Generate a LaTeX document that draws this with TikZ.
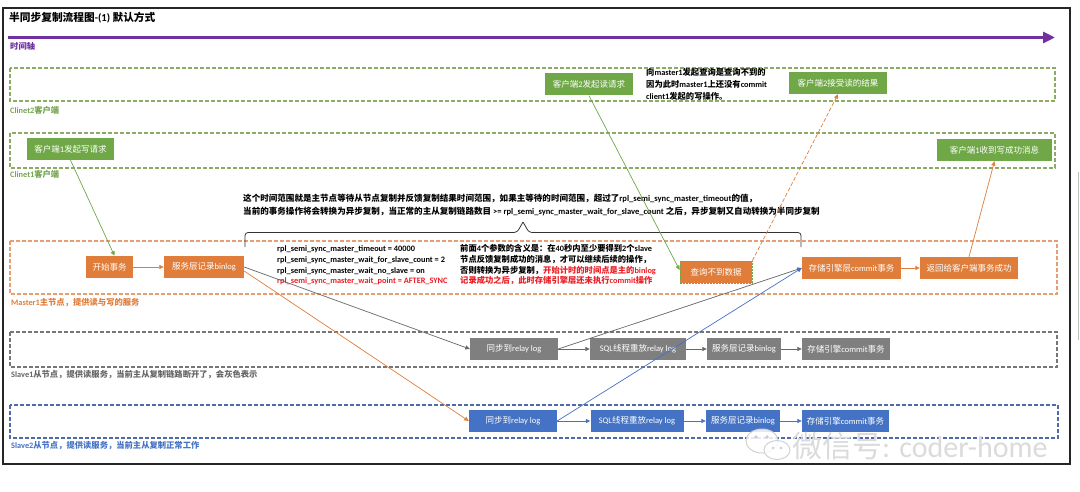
\documentclass[tikz,border=0pt]{standalone}
\usepackage{fontspec}
\setmainfont{Carlito}
\newfontfamily\cjkfont{Noto Sans CJK SC}
\usetikzlibrary{arrows.meta,calc}
% automatic switch between Latin (Carlito) and CJK (Noto Sans CJK SC)
\XeTeXinterchartokenstate=1
\ifdefined\newXeTeXintercharclass \newXeTeXintercharclass\CJKcls \else \chardef\CJKcls=7 \fi
\newcount\cjkc
\def\setcjkrange#1#2{\cjkc=#1 \loop \XeTeXcharclass\cjkc=\CJKcls \ifnum\cjkc<#2 \advance\cjkc by 1 \repeat}
\setcjkrange{"4E00}{"9FFF}
\setcjkrange{"3000}{"303F}
\setcjkrange{"FF00}{"FFEF}
\XeTeXinterchartoks 0 \CJKcls = {\cjkfont}
\XeTeXinterchartoks 4095 \CJKcls = {\cjkfont}
\XeTeXinterchartoks \CJKcls 0 = {\rmfamily}
\XeTeXinterchartoks 4095 0 = {\rmfamily}

\definecolor{cgreen}{RGB}{112,168,72}
\definecolor{cgreenD}{RGB}{140,172,100}
\definecolor{cgreenL}{RGB}{118,165,82}
\definecolor{corange}{RGB}{224,125,58}
\definecolor{corangeD}{RGB}{232,158,112}
\definecolor{cgray}{RGB}{127,127,127}
\definecolor{cgrayD}{RGB}{118,118,118}
\definecolor{cblue}{RGB}{68,114,196}
\definecolor{cblueD}{RGB}{78,106,170}
\definecolor{cpurple}{RGB}{112,48,160}
\definecolor{cred}{RGB}{236,28,36}

\tikzset{
  box/.style={minimum height=22pt, inner sep=0pt, text=white, font=\fontsize{8.5}{10}\selectfont},
  gbox/.style={box, fill=cgreen},
  obox/.style={box, fill=corange},
  sgbox/.style={box, fill=cgray},
  sbbox/.style={box, fill=cblue},
  region/.style={dash pattern=on 4pt off 2pt, line width=1.2pt},
  txt/.style={anchor=west, inner sep=0pt, text height=6.5pt, text depth=1.5pt, font=\fontsize{8.3}{10}\selectfont\bfseries},
  btxt/.style={txt, font=\fontsize{8.55}{10}\selectfont\bfseries},
  lbl/.style={anchor=west, inner sep=0pt, text height=6.5pt, text depth=1.5pt, font=\fontsize{8.3}{10}\selectfont\bfseries},
  conn/.style={line width=0.7pt, -{Triangle[length=4.5pt,width=4pt]}},
}

\begin{document}
\begin{tikzpicture}[x=1pt,y=-1pt]
\useasboundingbox (0,0) rectangle (1080,492);
\fill[white] (0,0) rectangle (1080,492);
% outer frame
\draw[line width=1.5pt, black!85] (3,8) rectangle (1070,464);
\draw[black!25, line width=1pt] (1078,172) -- (1078,340);

% title and time axis
\node[anchor=west, inner sep=0pt, font=\fontsize{10.7}{12}\selectfont\bfseries] (title) at (9,18) {半同步复制流程图-(1) 默认方式};
\coordinate (ta0) at (8,37.5);
\coordinate (ta1) at (1055,37.5);
\draw[cpurple, line width=3.6pt, -{Triangle[length=12pt,width=11pt]}] (ta0) -- (ta1);
\node[lbl, text=cpurple] (tl) at (10,47) {时间轴};

% regions
\draw[region, draw=cgreenD] (10,68) rectangle (1055,101);
\node[lbl, text=cgreenL] (lc2) at (10,111) {Clinet2客户端};
\draw[region, draw=cgreenD] (10,133) rectangle (1055,168);
\node[lbl, text=cgreenL] (lc1) at (10,175) {Clinet1客户端};
\draw[region, draw=corangeD] (10,241) rectangle (1057,294);
\node[lbl, text=corange] (lm) at (11,303) {Master1主节点，提供读与写的服务};
\draw[region, draw=cgrayD] (10,332) rectangle (1057,367);
\node[lbl, text=black!60] (ls1) at (11,375) {Slave1从节点，提供读服务，当前主从复制链路断开了，会灰色表示};
\draw[region, draw=cblueD] (10,405) rectangle (1058,438);
\node[lbl, text=cblue] (ls2) at (11,446) {Slave2从节点，提供读服务，当前主从复制正常工作};

% client nodes
\node[gbox, minimum width=87pt] (c1w) at (70.5,149) {客户端1发起写请求};
\node[gbox, minimum width=115pt] (c1r) at (994.5,150) {客户端1收到写成功消息};
\node[gbox, minimum width=88pt] (c2q) at (589,84.5) {客户端2发起读请求};
\node[gbox, minimum width=98pt] (c2r) at (838,83) {客户端2接受读的结果};

% master nodes
\node[obox, minimum width=47pt] (m1) at (109.5,267) {开始事务};
\node[obox, minimum width=80pt] (m2) at (204,267) {服务层记录binlog};
\node[obox, minimum width=72pt, draw=cgreen, dash pattern=on 2pt off 1pt, line width=0.8pt] (m3) at (716,272) {查询不到数据};
\node[obox, minimum width=99pt] (m4) at (851.5,268) {存储引擎层commit事务};
\node[obox, minimum width=98pt] (m5) at (969,268) {返回给客户端事务成功};

% slave1 nodes
\node[sgbox, minimum width=88pt] (s1a) at (514,349) {同步到relay log};
\node[sgbox, minimum width=96pt] (s1b) at (638,349) {SQL线程重放relay log};
\node[sgbox, minimum width=74pt] (s1c) at (744,349) {服务层记录binlog};
\node[sgbox, minimum width=88pt] (s1d) at (846,349) {存储引擎commit事务};

% slave2 nodes
\node[sbbox, minimum width=88pt] (s2a) at (513,421) {同步到relay log};
\node[sbbox, minimum width=93pt] (s2b) at (637,421) {SQL线程重放relay log};
\node[sbbox, minimum width=74pt] (s2c) at (743,421) {服务层记录binlog};
\node[sbbox, minimum width=87pt] (s2d) at (845.5,421) {存储引擎commit事务};

% annotations
\node[txt] (a1) at (646,73) {向master1发起查询是查询不到的};
\node[txt] (a2) at (646,85) {因为此时master1上还没有commit};
\node[txt] (a3) at (646,97) {client1发起的写操作。};

\node[btxt] (b1) at (243,199) {这个时间范围就是主节点等待从节点复制并反馈复制结果时间范围，如果主等待的时间范围，超过了rpl\_semi\_sync\_master\_timeout的值，};
\node[btxt] (b2) at (243,212) {当前的事务操作将会转换为异步复制，当正常的主从复制链路数目 >= rpl\_semi\_sync\_master\_wait\_for\_slave\_count 之后，异步复制又自动转换为半同步复制};

\node[txt] (p1) at (277,249) {rpl\_semi\_sync\_master\_timeout = 40000};
\node[txt] (p2) at (277,260) {rpl\_semi\_sync\_master\_wait\_for\_slave\_count = 2};
\node[txt] (p3) at (277,270.5) {rpl\_semi\_sync\_master\_wait\_no\_slave = on};
\node[txt, text=cred] (p4) at (277,281) {rpl\_semi\_sync\_master\_wait\_point = AFTER\_SYNC};

\node[txt] (e1) at (460,249) {前面4个参数的含义是：在40秒内至少要得到2个slave};
\node[txt] (e2) at (460,260) {节点反馈复制成功的消息，才可以继续后续的操作，};
\node[txt] (e3) at (460,270.5) {否则转换为异步复制，\textcolor{cred}{开始计时的时间点是主的binlog}};
\node[txt, text=cred] (e4) at (460,281) {记录成功之后，此时存储引擎层还未执行commit操作};

% brace
\draw[black!80, line width=0.8pt, rounded corners=3pt]
  (245,247) -- (245,232.5) -- (517,232.5) -- (523,222);
\draw[black!80, line width=0.8pt, rounded corners=3pt]
  (523,222) -- (529,232.5) -- (801,232.5) -- (801,247);

% connectors
\draw[conn, cgreen] (c1w.south) -- ([xshift=5pt]m1.north);
\draw[conn, corange] (m1.east) -- (m2.west);
\draw[conn, black!60] (m2.east) -- (s1a.west);
\draw[conn, corange] ([yshift=-4pt]m2.east) -- (s2a.west);
\draw[conn, cgreen] (c2q.south) -- ([yshift=2pt]m3.west);
\draw[conn, corange, dash pattern=on 4pt off 2pt] (m3.north east) -- (c2r.south);
\draw[conn, black!60] (s1a.east) -- (m4.west);
\draw[conn, cblue] (s2a.east) -- (m4.west);
\draw[conn, corange] (m4.east) -- (m5.west);
\draw[conn, corange] (m5.north) -- (c1r.south);
\draw[conn, black!60] (s1a.east) -- (s1b.west);
\draw[conn, black!60] (s1b.east) -- (s1c.west);
\draw[conn, black!60] (s1c.east) -- (s1d.west);
\draw[conn, cblue] (s2a.east) -- (s2b.west);
\draw[conn, cblue] (s2b.east) -- (s2c.west);
\draw[conn, cblue] (s2c.east) -- (s2d.west);

% watermark
\draw[black!18, fill=white, fill opacity=0.85, line width=1pt] (762,441) ellipse [x radius=16, y radius=12];
\draw[black!18, fill=white, fill opacity=0.85, line width=1pt] (777,450) ellipse [x radius=13, y radius=9.5];
\fill[black!20] (756,437) circle (1.8) (767,437) circle (1.8) (773,448) circle (1.3) (781,448) circle (1.3);
\node[anchor=west, inner sep=0pt, text=black!14, font=\fontsize{30}{30}\selectfont] (wm) at (792,446) {微信号: coder-home};
\end{tikzpicture}
\end{document}
